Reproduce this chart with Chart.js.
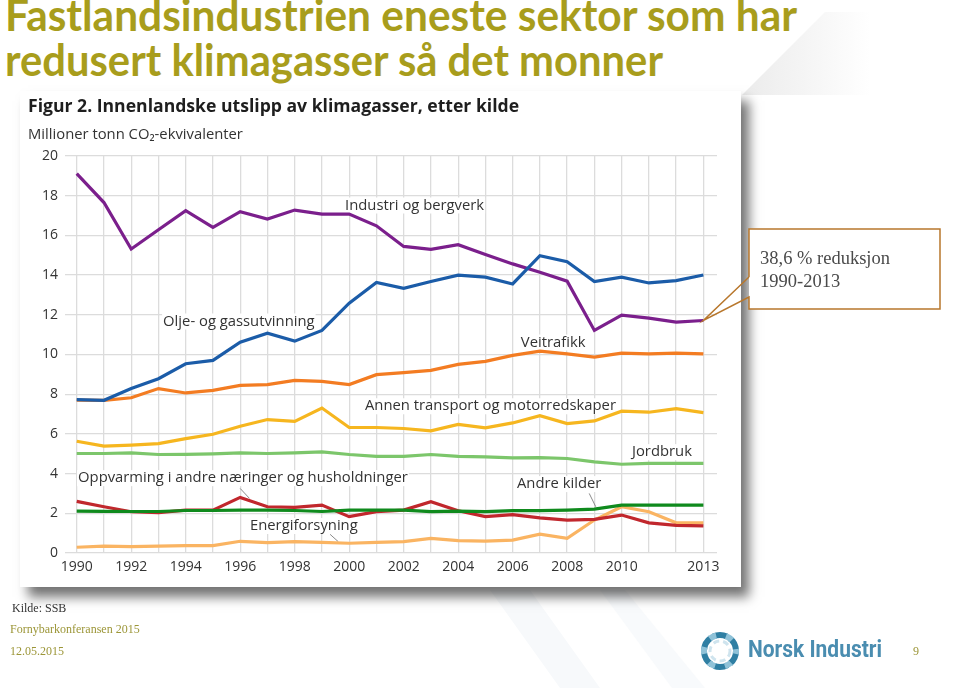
<!DOCTYPE html>
<html><head><meta charset="utf-8">
<script src="https://cdn.jsdelivr.net/npm/chart.js@4.4.1/dist/chart.umd.min.js"></script>
<style>
html,body{margin:0;padding:0;background:#fff;}
body{width:960px;height:688px;position:relative;overflow:hidden;}
.t{position:absolute;left:5px;font-family:Lato,sans-serif;font-weight:700;color:#a89d1c;font-size:43px;line-height:40px;white-space:nowrap;transform-origin:0 0;}
#fig{position:absolute;left:20px;top:91px;width:721px;height:496px;background:#fff;box-shadow:8px 10px 11px rgba(0,0,0,0.55);}
#cv{position:absolute;left:0;top:0;}
.f{position:absolute;font-family:"Liberation Serif",serif;font-size:12px;white-space:nowrap;line-height:14px;}
#logo{position:absolute;left:699px;top:630px;width:190px;height:42px;}
#lt{position:absolute;left:748px;top:634px;font-family:Roboto,sans-serif;font-weight:700;font-size:24px;line-height:30px;color:#4a8db0;white-space:nowrap;transform-origin:0 0;}
#bg{position:absolute;left:0;top:0;}
</style></head>
<body>
<svg id="bg" width="960" height="688">
  <defs><linearGradient id="g1" gradientUnits="userSpaceOnUse" x1="742" y1="0" x2="870" y2="0"><stop offset="0" stop-color="#ebebeb"/><stop offset="1" stop-color="#ffffff"/></linearGradient></defs>
  <polygon points="742,95 825,12 900,12 900,95" fill="url(#g1)"/>
  <polygon points="490,590 530,590 600,688 560,688" fill="#f7f9fb"/>
  <polygon points="600,590 625,590 705,688 672,688" fill="#f8fafc"/>
</svg>
<div class="t" id="t1" style="top:-5.5px">Fastlandsindustrien eneste sektor som har</div>
<div class="t" id="t2" style="top:39.5px">redusert klimagasser så det monner</div>
<div id="fig"></div>
<canvas id="cv" width="960" height="688"></canvas>
<div class="f" style="left:12px;top:601px;color:#333">Kilde: SSB</div>
<div class="f" style="left:10px;top:622px;color:#9c9638">Fornybarkonferansen 2015</div>
<div class="f" style="left:10px;top:644px;color:#9c9638">12.05.2015</div>
<div class="f" style="left:913px;top:644px;color:#9c9638">9</div>
<svg id="logo" viewBox="0 0 190 42">
  <g transform="translate(21,21)" fill="none">
    <circle r="16" stroke="#2f7fa3" stroke-width="6" stroke-dasharray="14 3"/>
    <circle r="16" stroke="#8fc2d8" stroke-width="6" stroke-dasharray="7 10" stroke-dashoffset="4"/>
    <circle r="10" stroke="#cfe4ee" stroke-width="3" stroke-dasharray="6 4"/>
  </g>
</svg>
<div id="lt">Norsk Industri</div>
<script>
// ---- data ----
const years = [1990,1991,1992,1993,1994,1995,1996,1997,1998,1999,2000,2001,2002,2003,2004,2005,2006,2007,2008,2009,2010,2011,2012,2013];
const tickYears = [1990,1992,1994,1996,1998,2000,2002,2004,2006,2008,2010,2013];
const industri   = [19.11,17.65,15.31,16.28,17.24,16.40,17.19,16.82,17.27,17.07,17.07,16.48,15.44,15.29,15.53,15.03,14.56,14.14,13.69,11.21,11.98,11.83,11.63,11.71];
const olje       = [7.72,7.69,8.28,8.78,9.53,9.70,10.62,11.07,10.67,11.21,12.58,13.63,13.33,13.67,13.99,13.89,13.55,14.97,14.67,13.67,13.89,13.60,13.72,14.00];
const veitrafikk = [7.70,7.69,7.82,8.28,8.06,8.19,8.44,8.48,8.69,8.64,8.48,8.98,9.08,9.20,9.50,9.65,9.95,10.17,10.03,9.87,10.07,10.03,10.07,10.03];
const annen      = [5.63,5.38,5.43,5.51,5.76,5.98,6.38,6.72,6.63,7.30,6.32,6.32,6.27,6.15,6.48,6.30,6.55,6.92,6.52,6.65,7.14,7.09,7.27,7.07];
const jordbruk   = [5.01,5.01,5.04,4.96,4.97,4.99,5.04,5.01,5.04,5.09,4.96,4.87,4.87,4.96,4.87,4.84,4.79,4.80,4.76,4.59,4.47,4.51,4.51,4.51];
const andre      = [2.11,2.10,2.09,2.09,2.14,2.14,2.16,2.16,2.14,2.09,2.16,2.16,2.16,2.08,2.11,2.08,2.13,2.13,2.16,2.21,2.41,2.41,2.41,2.41];
const oppvarming = [2.60,2.33,2.08,2.03,2.16,2.16,2.80,2.33,2.30,2.41,1.83,2.08,2.16,2.58,2.13,1.83,1.93,1.77,1.66,1.69,1.91,1.52,1.39,1.37];
const energi     = [0.29,0.35,0.32,0.35,0.37,0.37,0.59,0.52,0.57,0.54,0.49,0.54,0.57,0.74,0.62,0.60,0.65,0.95,0.74,1.66,2.33,2.08,1.52,1.52];
const seriesNames = ['Olje- og gassutvinning','Industri og bergverk','Veitrafikk','Annen transport og motorredskaper','Jordbruk','Andre kilder','Oppvarming i andre næringer og husholdninger','Energiforsyning'];
const yTicks = [0,2,4,6,8,10,12,14,16,18,20];
const calloutText = ['38,6 % reduksjon','1990-2013'];

// ---- label anchors (data units) ----
const labelAnchors = [
  {t:'Industri og bergverk', x:1999.85, y:17.5},
  {t:'Olje- og gassutvinning', x:1993.17, y:11.66},
  {t:'Veitrafikk', x:2006.3, y:10.6},
  {t:'Annen transport og motorredskaper', x:2000.58, y:7.39},
  {t:'Jordbruk', x:2010.38, y:5.08},
  {t:'Oppvarming i andre næringer og husholdninger', x:1990.05, y:3.77},
  {t:'Andre kilder', x:2006.16, y:3.47},
  {t:'Energiforsyning', x:1996.36, y:1.36}
];
const leaders = [
  [1996.0,3.25,1996.34,2.75],
  [2008.81,3.0,2009.05,2.33],
  [1999.3,0.94,1999.6,0.57]
];

const pts = arr => years.map((yr,i)=>({x:yr,y:arr[i]}));
const colors = ['#1b5ca8','#7b1f8c','#f37c22','#f6b61f','#7cc66b','#0f8a1d','#c1272d','#fab462'];
const seriesData = [olje,industri,veitrafikk,annen,jordbruk,andre,oppvarming,energi];

const annot = {
  id:'annot',
  beforeDatasetsDraw(chart){
    const {ctx, scales:{x,y}} = chart;
    ctx.save();
    ctx.font = '14.8px "Open Sans"';
    ctx.textBaseline = 'middle';
    labelAnchors.forEach(l=>{
      const px = x.getPixelForValue(l.x), py = y.getPixelForValue(l.y);
      const w = ctx.measureText(l.t).width;
      ctx.fillStyle = '#fff';
      ctx.fillRect(px-1, py-8, w+2, 16);
      ctx.fillStyle = '#333';
      ctx.fillText(l.t, px, py);
    });
    ctx.strokeStyle = '#8a8a8a'; ctx.lineWidth = 1;
    leaders.forEach(a=>{
      ctx.beginPath();
      ctx.moveTo(x.getPixelForValue(a[0]), y.getPixelForValue(a[1]));
      ctx.lineTo(x.getPixelForValue(a[2]), y.getPixelForValue(a[3]));
      ctx.stroke();
    });
    ctx.restore();
  },
  afterDatasetsDraw(chart){
    const {ctx, scales:{x,y}} = chart;
    const tx = x.getPixelForValue(years[years.length-1]);
    const ty = y.getPixelForValue(industri[industri.length-1]);
    const L=749, T=229, R=940, B=309, g1=277, g2=297;
    ctx.save();
    ctx.fillStyle='#fff';
    ctx.fillRect(L,T,R-L,B-T);
    ctx.strokeStyle='#b8772c'; ctx.lineWidth=1.5;
    ctx.beginPath();
    ctx.moveTo(L,g1); ctx.lineTo(L,T); ctx.lineTo(R,T); ctx.lineTo(R,B); ctx.lineTo(L,B); ctx.lineTo(L,g2);
    ctx.lineTo(tx,ty); ctx.lineTo(L,g1);
    ctx.stroke();
    ctx.fillStyle='#4a4a4a';
    ctx.font='18.5px "Liberation Serif"';
    ctx.textBaseline='alphabetic';
    ctx.fillText(calloutText[0], 760, 264);
    ctx.fillText(calloutText[1], 760, 287);
    ctx.restore();
  }
};

new Chart(document.getElementById('cv'), {
  type:'line',
  data:{datasets: seriesData.map((d,i)=>({label:seriesNames[i], data:pts(d), borderColor:colors[i], backgroundColor:colors[i], borderWidth:3.2, pointRadius:0, tension:0, fill:false}))},
  options:{
    responsive:false, animation:false, devicePixelRatio:1,
    layout:{padding:{top:91,left:28,right:243,bottom:101}},
    plugins:{
      legend:{display:false}, tooltip:{enabled:false},
      title:{display:true, text:'Figur 2. Innenlandske utslipp av klimagasser, etter kilde', align:'start', color:'#1e1e1e', font:{family:'Open Sans', size:17.6, weight:'bold'}, padding:{top:5,bottom:9}},
      subtitle:{display:true, text:'Millioner tonn CO₂-ekvivalenter', align:'start', color:'#333', font:{family:'Open Sans', size:14.8}, padding:{top:0,bottom:12}}
    },
    scales:{
      x:{type:'linear', min:1989.57, max:2013.5,
         afterBuildTicks:s=>{s.ticks = years.map(v=>({value:v}));},
         afterFit:s=>{s.height=34;},
         grid:{color:'#dcdcdc', lineWidth:1.3, drawTicks:false},
         border:{display:false},
         ticks:{autoSkip:false, maxRotation:0, padding:6, color:'#333', font:{family:'Open Sans', size:14},
                callback:v=> tickYears.includes(v) ? String(v) : ''}},
      y:{min:0, max:20,
         afterBuildTicks:s=>{s.ticks = yTicks.map(v=>({value:v}));},
         afterFit:s=>{s.width=37;},
         grid:{color:'#dcdcdc', lineWidth:1.3, drawTicks:false},
         border:{display:false},
         ticks:{padding:7, color:'#333', font:{family:'Open Sans', size:14}}}
    }
  },
  plugins:[annot]
});

function fit(id, w){
  const el = document.getElementById(id);
  const r = el.getBoundingClientRect().width;
  el.style.transform = 'scaleX(' + (w/r) + ')';
}
fit('t1', 792); fit('t2', 658); fit('lt', 134);
</script>
</body></html>
